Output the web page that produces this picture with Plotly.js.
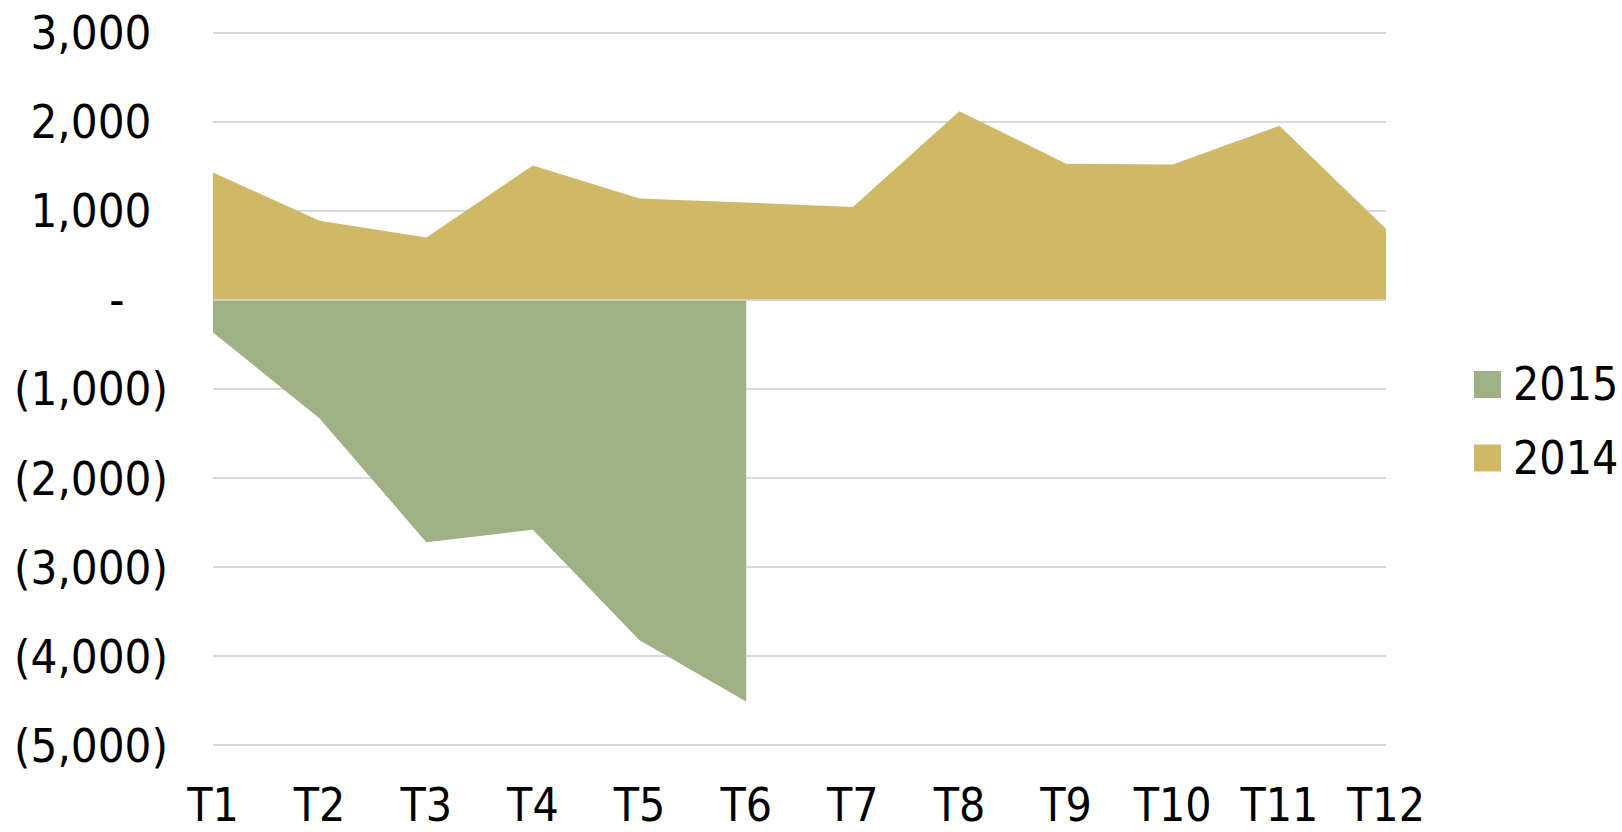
<!DOCTYPE html>
<html>
<head>
<meta charset="utf-8">
<script src="https://cdn.plot.ly/plotly-3.0.1.min.js"></script>
<style>
  html, body { margin: 0; padding: 0; background: #ffffff; }
  #chart { width: 1622px; height: 832px; }
</style>
</head>
<body>
<div id="chart"></div>
<script>
// ---- data ----
var categories = ['T1','T2','T3','T4','T5','T6','T7','T8','T9','T10','T11','T12'];
var values2014 = [1430, 890, 700, 1510, 1140, 1095, 1045, 2120, 1530, 1520, 1955, 800];
var values2015 = [-365, -1330, -2720, -2580, -3820, -4510, null, null, null, null, null, null];
var seriesNames = ['2015', '2014'];
var tickValues = [3000, 2000, 1000, 0, -1000, -2000, -3000, -4000, -5000];

var colorGold = '#CFB967';
var colorGreen = '#9EB084';
var FONT = 'DejaVu Sans Condensed, DejaVu Sans, sans-serif';
var FS = 46;

function fmt(v) {
  var hide = function (s) { return '<span style="color:rgba(0,0,0,0)">' + s + '</span>'; };
  if (v === 0) return '-' + hide('0)');
  var s = Math.abs(v).toLocaleString('en-US');
  return v < 0 ? '(' + s + ')' : s + hide(')');
}

var W = 1622, H = 832;
var M = {l: 213, r: 236, t: 31, b: 85};
var PW = W - M.l - M.r, PH = H - M.t - M.b;
function px(x) { return (x - M.l) / PW; }
function py(y) { return 1 - (y - M.t) / PH; }

var traces = [
  {
    type: 'scatter', mode: 'lines', name: seriesNames[1],
    x: categories, y: values2014,
    fill: 'tozeroy', fillcolor: colorGold,
    line: {width: 0, color: colorGold},
    showlegend: false, hoverinfo: 'x+y+name'
  },
  {
    type: 'scatter', mode: 'lines', name: seriesNames[0],
    x: categories, y: values2015,
    fill: 'tozeroy', fillcolor: colorGreen,
    line: {width: 0, color: colorGreen},
    showlegend: false, hoverinfo: 'x+y+name'
  }
];

var legendColors = [colorGreen, colorGold];
var legendY = [384.5, 458];
var shapes = [
  {type: 'line', xref: 'paper', yref: 'y', x0: 0, x1: 1, y0: 0, y1: 0,
   line: {color: '#d9d9d9', width: 1.5}, layer: 'above'}
];
var annotations = [];
seriesNames.forEach(function (n, i) {
  shapes.push({type: 'rect', xref: 'paper', yref: 'paper',
    x0: px(1474), x1: px(1501), y0: py(legendY[i] - 13.5), y1: py(legendY[i] + 13.5),
    fillcolor: legendColors[i], line: {width: 0}});
  annotations.push({xref: 'paper', yref: 'paper', x: px(1511), y: py(legendY[i]),
    xanchor: 'left', yanchor: 'middle', showarrow: false, text: n,
    font: {family: FONT, size: FS, color: '#000000'}});
});

var layout = {
  width: W, height: H,
  margin: M,
  paper_bgcolor: '#ffffff', plot_bgcolor: '#ffffff',
  showlegend: false,
  font: {family: FONT, size: FS, color: '#000000'},
  xaxis: {
    type: 'category', range: [0, categories.length - 1],
    showgrid: false, zeroline: false, showline: false, ticks: '',
    tickfont: {family: FONT, size: FS, color: '#000000'},
    ticklabelstandoff: 27, fixedrange: true
  },
  yaxis: {
    range: [-5020, 3020],
    tickmode: 'array', tickvals: tickValues, ticktext: tickValues.map(fmt),
    showgrid: true, gridcolor: '#d9d9d9', gridwidth: 1.5,
    zeroline: false, showline: false, ticks: '',
    tickfont: {family: FONT, size: 47, color: '#000000'},
    ticklabelstandoff: 44, fixedrange: true
  },
  shapes: shapes,
  annotations: annotations
};

Plotly.newPlot('chart', traces, layout, {displayModeBar: false, staticPlot: true});
</script>
</body>
</html>
